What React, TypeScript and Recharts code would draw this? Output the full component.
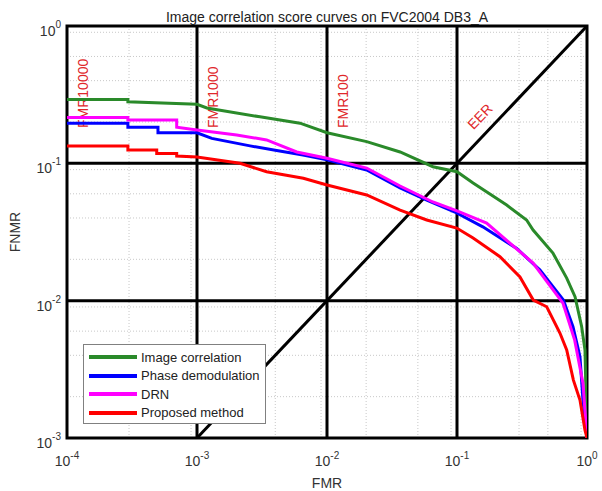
import React from 'react';
import { LineChart, Line, XAxis, YAxis, CartesianGrid, ReferenceLine, ReferenceArea, ReferenceDot, Legend } from 'recharts';

const FONT = '"Liberation Sans", Arial, sans-serif';
const TITLE = 'Image correlation score curves on FVC2004 DB3_A';

// axes (log-log DET plot)
const xTicks = [1e-4, 1e-3, 1e-2, 1e-1, 1];
const yTicks = [1e-3, 1e-2, 1e-1, 1];
const xMajor = [1e-3, 1e-2, 1e-1];
const yMajor = [1e-2, 1e-1];
const xMinor = [2e-4, 3e-4, 4e-4, 5e-4, 6e-4, 7e-4, 8e-4, 9e-4, 2e-3, 3e-3, 4e-3, 5e-3, 6e-3, 7e-3, 8e-3, 9e-3, 0.02, 0.03, 0.04, 0.05, 0.06, 0.07, 0.08, 0.09, 0.2, 0.3, 0.4, 0.5, 0.6, 0.7, 0.8, 0.9];
const yMinor = [2e-3, 3e-3, 4e-3, 5e-3, 6e-3, 7e-3, 8e-3, 9e-3, 0.02, 0.03, 0.04, 0.05, 0.06, 0.07, 0.08, 0.09, 0.2, 0.3, 0.4, 0.5, 0.6, 0.7, 0.8, 0.9];

// operating point markers
const fmrMarks = [
  { at: 1e-4, text: 'FMR10000' },
  { at: 1e-3, text: 'FMR1000' },
  { at: 1e-2, text: 'FMR100' },
];
const eerLabelAt = { x: 0.15, y: 0.22 };

// curves
const imageCorrFmr = [1e-4, 2.94e-4, 2.94e-4, 1e-3, 1.19e-3, 3.05e-3, 6.2e-3, 0.01, 0.0202, 0.0365, 0.0653, 0.1, 0.133, 0.241, 0.343, 0.385, 0.547, 0.698, 0.809, 0.91, 0.965, 1];
const imageCorrFnmr = [0.292, 0.292, 0.281, 0.269, 0.253, 0.218, 0.196, 0.167, 0.144, 0.121, 0.0945, 0.0869, 0.0719, 0.0497, 0.0387, 0.0327, 0.0222, 0.0146, 0.0107, 0.00646, 0.00437, 0.001];

const phaseFmr = [1e-4, 2.94e-4, 2.94e-4, 5.01e-4, 5.01e-4, 1e-3, 1.3e-3, 2.56e-3, 4.1e-3, 6.54e-3, 0.01, 0.0202, 0.0365, 0.0585, 0.0995, 0.158, 0.288, 0.435, 0.658, 0.78, 0.883, 0.931, 1];
const phaseFnmr = [0.196, 0.196, 0.183, 0.183, 0.167, 0.167, 0.152, 0.134, 0.124, 0.115, 0.106, 0.0894, 0.0661, 0.054, 0.0435, 0.0345, 0.024, 0.0167, 0.0101, 0.00646, 0.0039, 0.00189, 0.001];

const drnFmr = [1e-4, 2.94e-4, 2.94e-4, 6.98e-4, 6.98e-4, 1e-3, 2.02e-3, 3.43e-3, 5.85e-3, 0.01, 0.0202, 0.0365, 0.0653, 0.1, 0.169, 0.385, 0.653, 0.804, 0.931, 1];
const drnFnmr = [0.216, 0.216, 0.207, 0.207, 0.183, 0.175, 0.161, 0.148, 0.121, 0.109, 0.0924, 0.0684, 0.0523, 0.045, 0.0367, 0.0188, 0.0096, 0.00516, 0.00251, 0.001];

const proposedFmr = [1e-4, 2.94e-4, 2.94e-4, 4.9e-4, 4.9e-4, 6.98e-4, 6.98e-4, 1e-3, 2.14e-3, 3.43e-3, 6.58e-3, 0.01, 0.0202, 0.0365, 0.0585, 0.0995, 0.133, 0.214, 0.305, 0.386, 0.49, 0.619, 0.698, 0.786, 0.883, 0.965, 1];
const proposedFnmr = [0.134, 0.134, 0.125, 0.125, 0.118, 0.118, 0.113, 0.111, 0.1, 0.0869, 0.0778, 0.0695, 0.0588, 0.0457, 0.0387, 0.0338, 0.0286, 0.0209, 0.0149, 0.0101, 0.00903, 0.00581, 0.00437, 0.00264, 0.00189, 0.00114, 0.001];

const zip = (fmr: number[], fnmr: number[]) => fmr.map((f, i) => ({ fmr: f, fnmr: fnmr[i] }));

const series = [
  { name: 'Image correlation', color: '#2a8a2a', data: zip(imageCorrFmr, imageCorrFnmr) },
  { name: 'Phase demodulation', color: '#0000ff', data: zip(phaseFmr, phaseFnmr) },
  { name: 'DRN', color: '#ff00ff', data: zip(drnFmr, drnFnmr) },
  { name: 'Proposed method', color: '#ff0000', data: zip(proposedFmr, proposedFnmr) },
];
const seriesOrder = series.map(s => s.name);

const PowTick = ({ x, y, payload, side }: any) => {
  const exp = Math.round(Math.log10(payload.value));
  const left = side === 'left';
  return (
    <text x={x} y={left ? y + 10 : y + 22} textAnchor={left ? 'end' : 'middle'} fill="#333" fontFamily={FONT} fontSize={14}>
      <tspan>10</tspan>
      <tspan dy={left ? -8 : -7} fontSize={10}>{exp}</tspan>
    </text>
  );
};

const FmrLabel = ({ viewBox, value }: any) => {
  const x = viewBox.x + 21;
  const y = viewBox.y + 102;
  return (
    <text x={x} y={y} transform={`rotate(-90 ${x} ${y})`} fill="#e0262a" fontFamily={FONT} fontSize={14}>
      {value}
    </text>
  );
};

const EerLabel = ({ viewBox }: any) => {
  const x = viewBox.x + viewBox.width / 2;
  const y = viewBox.y + viewBox.height / 2;
  return (
    <text x={x} y={y} dy={5} textAnchor="middle" transform={`rotate(-46 ${x} ${y})`} fill="#e0262a" fontFamily={FONT} fontSize={14}>
      EER
    </text>
  );
};

const FnmrLabel = ({ viewBox }: any) => {
  const x = viewBox.x + 20;
  const y = viewBox.y + viewBox.height / 2;
  return (
    <text x={x} y={y} textAnchor="middle" transform={`rotate(-90 ${x} ${y})`} fill="#333" fontFamily={FONT} fontSize={14}>
      FNMR
    </text>
  );
};

const LegendBox = ({ payload }: any) => {
  const items = [...(payload || [])].sort((a: any, b: any) => seriesOrder.indexOf(a.value) - seriesOrder.indexOf(b.value));
  return (
    <div style={{ background: '#fff', border: '1px solid #808080', padding: '3px 0 1px 0', fontFamily: FONT, fontSize: 13, color: '#222' }}>
      {items.map((p: any) => (
        <div key={p.value} style={{ display: 'flex', alignItems: 'center', height: 18.5 }}>
          <span style={{ width: 48, height: 4, marginLeft: 5, marginRight: 4, background: p.color, display: 'inline-block' }} />
          <span>{p.value}</span>
        </div>
      ))}
    </div>
  );
};

export default function App() {
  return (
    <div style={{ position: 'absolute', left: 0, top: 0, width: 602, height: 491, background: '#fff' }}>
      <LineChart width={602} height={491} margin={{ top: 26, right: 15, bottom: 0, left: 0 }}>
        <CartesianGrid stroke="#c8c8c8" strokeDasharray="1 2" horizontalValues={yMinor} verticalValues={xMinor} />
        <XAxis
          type="number"
          dataKey="fmr"
          scale="log"
          domain={[1e-4, 1]}
          allowDataOverflow
          ticks={xTicks}
          height={53}
          axisLine={false}
          tickLine={false}
          tickSize={0}
          tickMargin={6}
          tick={<PowTick side="bottom" />}
          label={{ value: 'FMR', position: 'insideBottom', offset: 3.5, fill: '#333', fontSize: 14, fontFamily: FONT }}
        />
        <YAxis
          type="number"
          dataKey="fnmr"
          scale="log"
          domain={[1e-3, 1]}
          allowDataOverflow
          ticks={yTicks}
          width={67}
          axisLine={false}
          tickLine={false}
          tickSize={0}
          tickMargin={6}
          tick={<PowTick side="left" />}
          label={FnmrLabel}
        />
        {xMajor.map(v => (
          <ReferenceLine key={`vx-${v}`} x={v} stroke="#000" strokeWidth={3} />
        ))}
        {yMajor.map(v => (
          <ReferenceLine key={`hy-${v}`} y={v} stroke="#000" strokeWidth={3} />
        ))}
        <ReferenceLine segment={[{ x: 1e-3, y: 1e-3 }, { x: 1, y: 1 }]} stroke="#000" strokeWidth={3} />
        {fmrMarks.map(m => (
          <ReferenceLine key={m.text} x={m.at} stroke="none" label={<FmrLabel value={m.text} />} />
        ))}
        <ReferenceDot x={eerLabelAt.x} y={eerLabelAt.y} r={0} fill="none" stroke="none" label={<EerLabel />} />
        <ReferenceArea
          x1={1e-4}
          x2={1}
          y1={1e-3}
          y2={1}
          fill="none"
          fillOpacity={0}
          stroke="#000"
          strokeWidth={3}
          label={{ value: TITLE, position: 'top', offset: 4.5, fill: '#222', fontSize: 14, fontFamily: FONT }}
        />
        {series.map(s => (
          <Line
            key={s.name}
            data={s.data}
            dataKey="fnmr"
            name={s.name}
            type="linear"
            stroke={s.color}
            strokeWidth={3}
            dot={false}
            activeDot={false}
            isAnimationActive={false}
          />
        ))}
        <Legend
          layout="vertical"
          align="center"
          verticalAlign="middle"
          content={<LegendBox />}
          wrapperStyle={{ left: 83, top: 344, width: 183, bottom: 'auto' }}
        />
      </LineChart>
    </div>
  );
}
